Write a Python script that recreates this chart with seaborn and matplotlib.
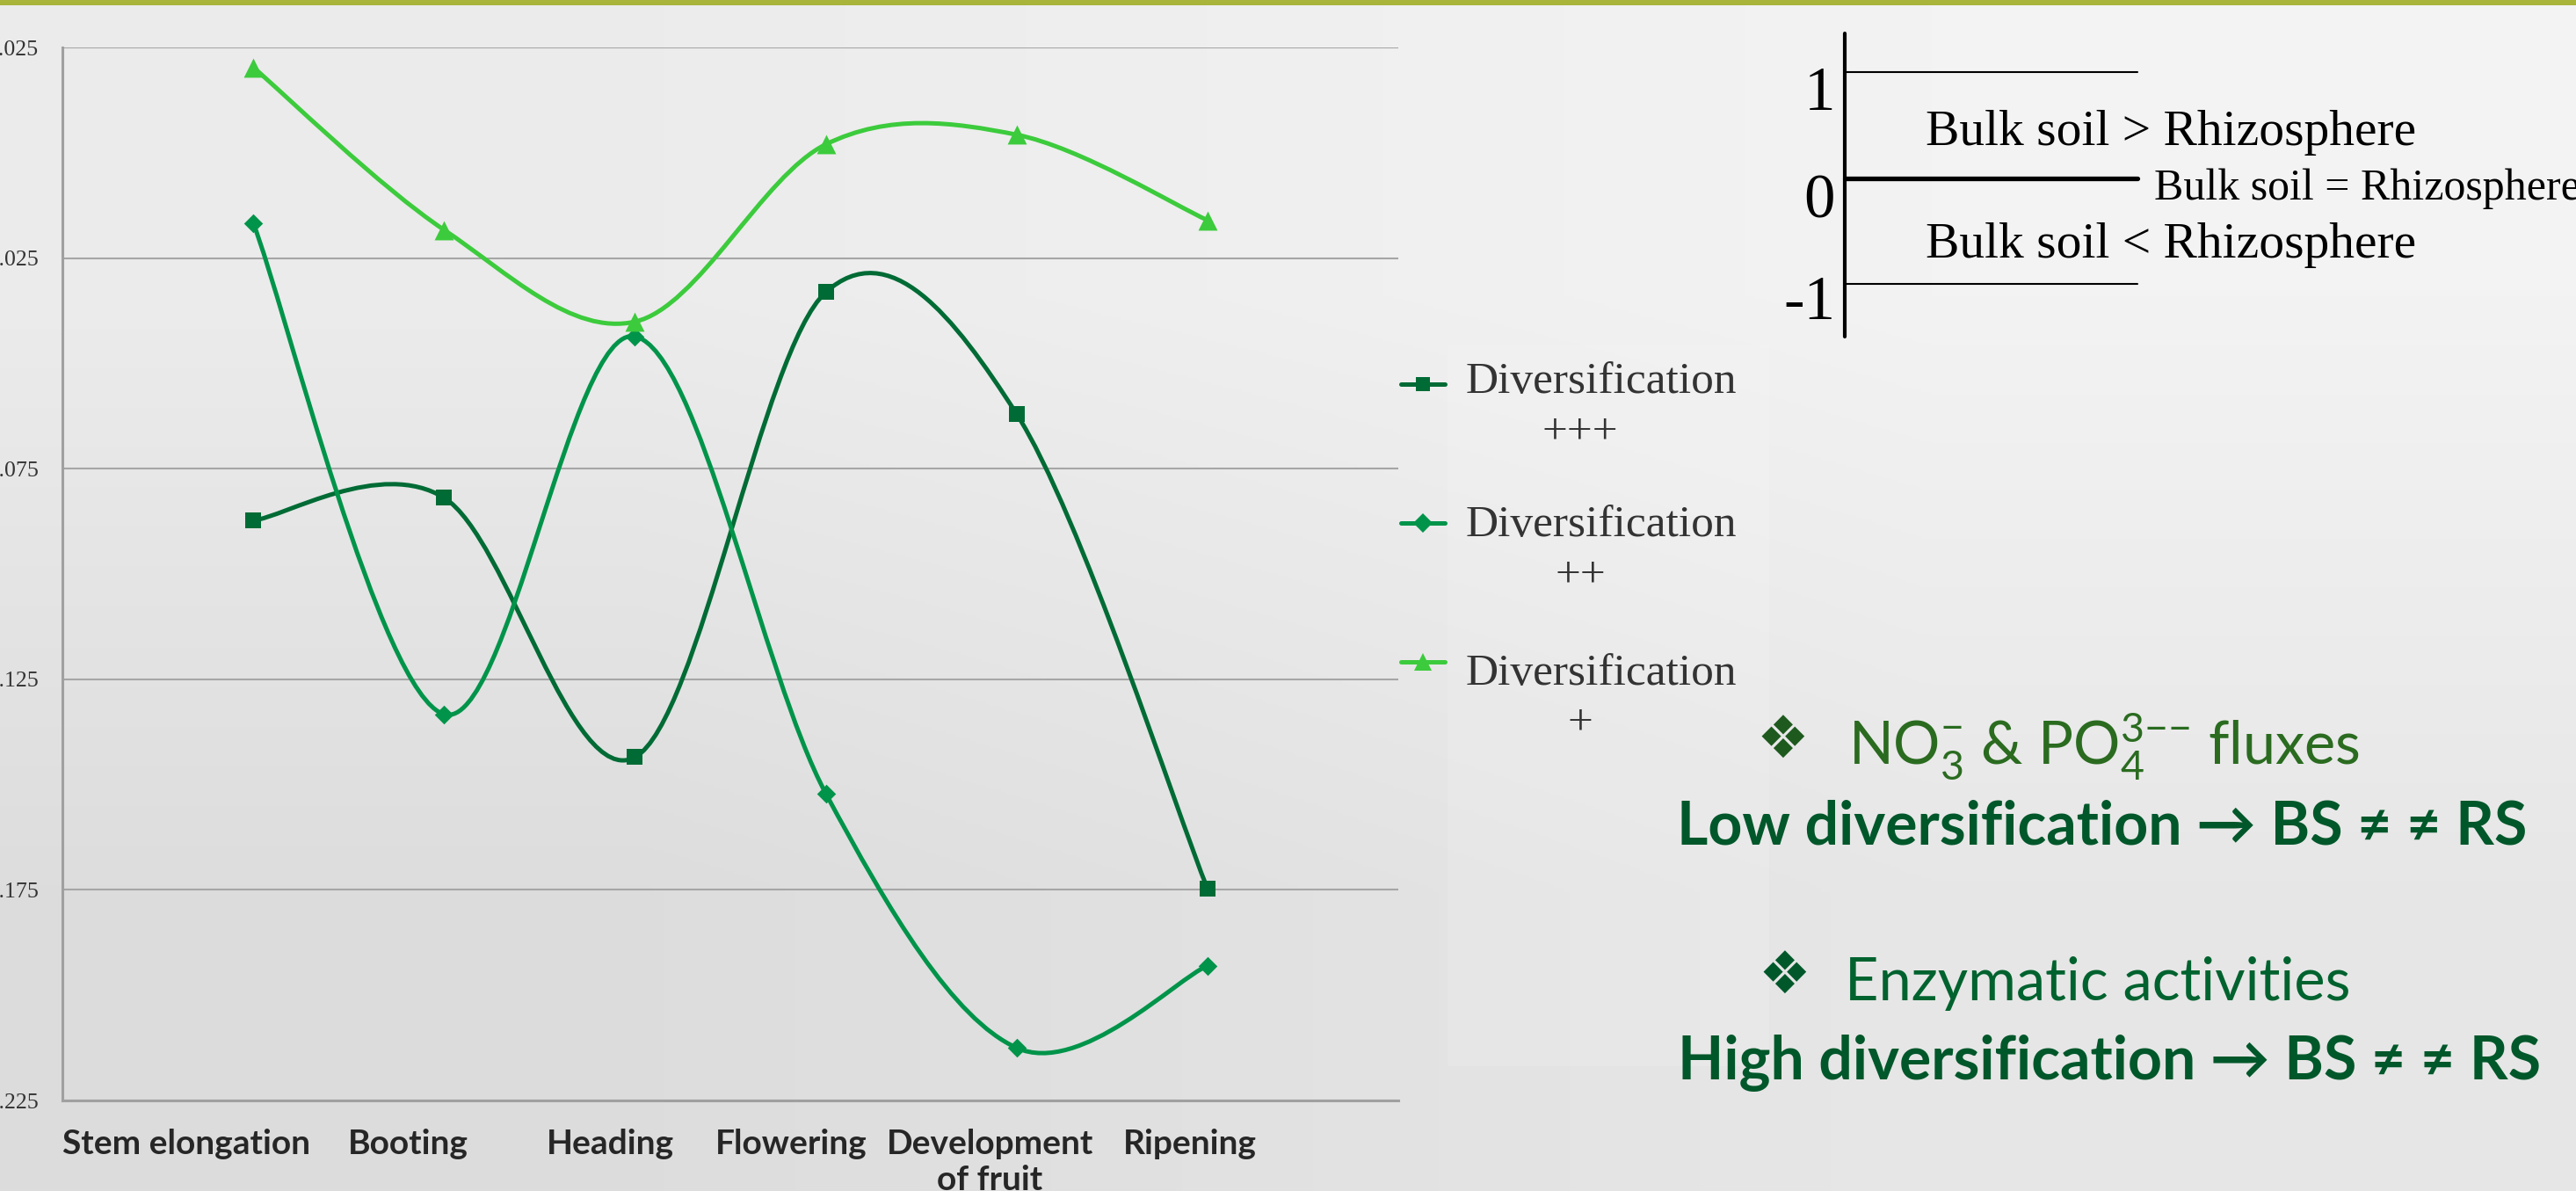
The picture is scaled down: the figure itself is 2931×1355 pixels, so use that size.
import numpy as np
import pandas as pd
import matplotlib
matplotlib.use("Agg")
import matplotlib.pyplot as plt
import seaborn as sns
from matplotlib.path import Path
from matplotlib.patches import PathPatch, Rectangle
from matplotlib.lines import Line2D

sns.set_theme(style="white")
plt.rcParams['font.family'] = ['Lato', 'DejaVu Sans']
plt.rcParams['axes.unicode_minus'] = False
plt.rcParams['mathtext.fontset'] = 'custom'
plt.rcParams['mathtext.rm'] = 'Lato'
plt.rcParams['mathtext.it'] = 'Lato:italic'
plt.rcParams['mathtext.bf'] = 'Lato:bold'

# ---------------------------------------------------------------
# data
stages = ["Stem elongation", "Booting", "Heading", "Flowering", "Development\nof fruit", "Ripening"]
div_high = [-0.0873, -0.0819, -0.1435, -0.0331, -0.0620, -0.1747]   # Diversification +++
div_mid = [-0.0167, -0.1333, -0.0436, -0.1521, -0.2125, -0.1930]    # Diversification ++
div_low = [0.0203, -0.0183, -0.0401, 0.0020, 0.0043, -0.0160]       # Diversification +
levels = ["+++", "++", "+"]
y_ticks = [0.025, -0.025, -0.075, -0.125, -0.175, -0.225]

colors = {"+++": "#006b35", "++": "#00944a", "+": "#3ccb3c"}
markers = {"+++": "s", "++": "D", "+": "^"}
sizes = {"+++": 44, "++": 30, "+": 62}

pos = np.arange(len(stages))
df = pd.DataFrame({
    "pos": np.tile(pos, 3),
    "value": div_high + div_mid + div_low,
    "level": np.repeat(levels, len(stages)),
})


def smooth_path(xs, ys):
    # Excel-like smoothed line: cubic bezier through the points
    pts = list(zip(xs, ys))
    n = len(pts)
    verts = [pts[0]]
    codes = [Path.MOVETO]
    for i in range(n - 1):
        p0 = pts[i - 1] if i > 0 else pts[i]
        p1 = pts[i]
        p2 = pts[i + 1]
        p3 = pts[i + 2] if i + 2 < n else pts[i + 1]
        c1 = (p1[0] + (p2[0] - p0[0]) / 6, p1[1] + (p2[1] - p0[1]) / 6)
        c2 = (p2[0] - (p3[0] - p1[0]) / 6, p2[1] - (p3[1] - p1[1]) / 6)
        verts += [c1, c2, p2]
        codes += [Path.CURVE4] * 3
    return Path(verts, codes)


fig = plt.figure(figsize=(14.655, 6.775), dpi=200)

# slide background
bg = fig.add_axes([0, 0, 1, 1], zorder=-10)
grad = np.array([[[0.925, 0.925, 0.925], [0.953, 0.953, 0.953]],
                 [[0.866, 0.866, 0.866], [0.905, 0.905, 0.905]]])
bg.imshow(grad, extent=[0, 1, 0, 1], aspect='auto', interpolation='bilinear')
bg.set_xlim(0, 1)
bg.set_ylim(0, 1)
bg.axis('off')
bg.add_patch(Rectangle((0, 0.9956), 1, 0.0044, color='#a8b43a', lw=0))
bg.add_patch(Rectangle((0.5619, 0.1048), 0.1249, 0.6052, facecolor='white', alpha=0.12, lw=0))

ax = fig.add_axes([0.02422, 0.0760, 0.5186, 0.8841])
ax.set_facecolor('none')

for lev, vals in zip(levels, [div_high, div_mid, div_low]):
    ax.add_patch(PathPatch(smooth_path(pos, vals), fill=False, edgecolor=colors[lev],
                           lw=1.8, zorder=3, capstyle='round'))

for lev in levels:
    sub = df[df["level"] == lev]
    sns.scatterplot(data=sub, x="pos", y="value", ax=ax, color=colors[lev], marker=markers[lev],
                    s=sizes[lev], linewidth=0, legend=False, zorder=4)

ax.set_xlim(-1, 6)
ax.set_ylim(-0.225, 0.025)
ax.set_yticks(y_ticks)
ax.set_yticklabels(["%.3f" % v for v in y_ticks], family=['Liberation Serif'], fontsize=9.3, color='#333333')
ax.tick_params(axis='y', length=2.9, width=0.75, color='#a6a6a6', pad=7)
label_shift = [-0.35, -0.19, -0.13, -0.18, -0.14, -0.09]
ax.set_xticks(pos + np.array(label_shift))
ax.set_xticklabels(stages, fontsize=14, fontweight='bold', color='#262626', linespacing=1.2)
ax.tick_params(axis='x', length=0, pad=11.5)
ax.grid(axis='y', color='#a6a6a6', lw=0.75)
ax.grid(axis='x', visible=False)
ax.set_xlabel('')
ax.set_ylabel('')
for side in ['top', 'right']:
    ax.spines[side].set_visible(False)
for side in ['left', 'bottom']:
    ax.spines[side].set_color('#a0a0a0')
    ax.spines[side].set_linewidth(1.1)

# legend drawn by hand, as on the slide
serif = ['Liberation Serif', 'DejaVu Serif']
leg_y = [0.6775, 0.5609, 0.4443]
txt_y = [0.679, 0.5587, 0.434]
sub_y = [0.6369, 0.5166, 0.3926]
for lev, hy, ty, sy in zip(levels, leg_y, txt_y, sub_y):
    fig.add_artist(Line2D([0.5438, 0.5609], [hy, hy], color=colors[lev], lw=1.8,
                          transform=fig.transFigure))
    fig.add_artist(Line2D([0.5524], [hy], color=colors[lev], marker=markers[lev], ms=5.5 if lev != '+' else 7,
                          mew=0, transform=fig.transFigure))
    fig.text(0.5688, ty, "Diversification", family=serif, fontsize=18.5, color='#333333',
             ha='left', va='center')
    fig.text(0.6134, sy, lev, family=serif, fontsize=18.5, color='#333333', ha='center', va='center')

# scale diagram at the top right
fig.add_artist(Line2D([0.7161, 0.7161], [0.972, 0.7173], color='black', lw=1.5, transform=fig.transFigure))
fig.add_artist(Line2D([0.7161, 0.8298], [0.9395, 0.9395], color='black', lw=0.75, transform=fig.transFigure))
fig.add_artist(Line2D([0.7161, 0.8298], [0.8502, 0.8502], color='black', lw=1.9, transform=fig.transFigure))
fig.add_artist(Line2D([0.7161, 0.8298], [0.7616, 0.7616], color='black', lw=0.75, transform=fig.transFigure))
fig.text(0.7124, 0.921, "1", family=serif, fontsize=25.5, ha='right', va='center', color='black')
fig.text(0.7124, 0.830, "0", family=serif, fontsize=25.5, ha='right', va='center', color='black')
fig.text(0.7124, 0.745, "-1", family=serif, fontsize=25.5, ha='right', va='center', color='black')
fig.text(0.7475, 0.8782, "Bulk soil > Rhizosphere", family=serif, fontsize=20.7, va='baseline', color='black')
fig.text(0.8362, 0.8325, "Bulk soil = Rhizosphere", family=serif, fontsize=18, va='baseline', color='black')
fig.text(0.7475, 0.7838, "Bulk soil < Rhizosphere", family=serif, fontsize=20.7, va='baseline', color='black')

# conclusions
bullet = ['DejaVu Sans']
fig.text(0.692, 0.364, u"\u2756", family=bullet, fontsize=24, color='#1e5a1e', ha='center', va='baseline')
fig.text(0.7175, 0.358, "NO$_3^{-}$ & PO$_4^{3{-}{-}}$ fluxes", fontsize=24, color='#2a6b20',
         ha='left', va='baseline')
fig.text(0.8159, 0.2915, u"Low diversification \u2192 BS \u2260 \u2260 RS", fontsize=24.5, fontweight='bold',
         color='#00572a', ha='center', va='baseline')
fig.text(0.6926, 0.166, u"\u2756", family=bullet, fontsize=24, color='#00582a', ha='center', va='baseline')
fig.text(0.716, 0.160, "Enzymatic activities", fontsize=24, color='#00622e',
         ha='left', va='baseline')
fig.text(0.8188, 0.0937, u"High diversification \u2192 BS \u2260 \u2260 RS", fontsize=24.5, fontweight='bold',
         color='#00572a', ha='center', va='baseline')

fig.savefig("out.png", dpi=200)
